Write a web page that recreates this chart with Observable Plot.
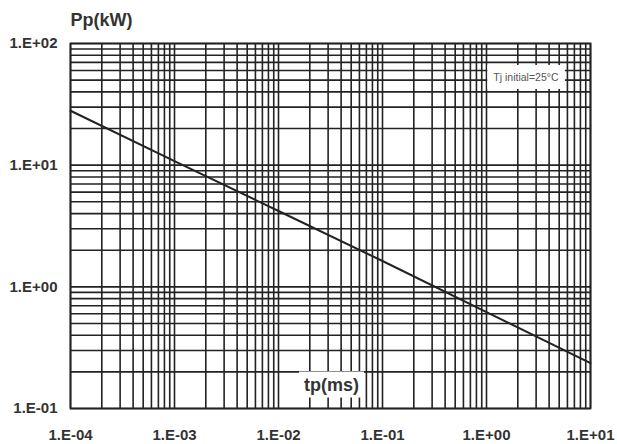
<!DOCTYPE html>
<html>
<head>
<meta charset="utf-8">
<script src="https://cdn.jsdelivr.net/npm/d3@7"></script>
<script src="https://cdn.jsdelivr.net/npm/@observablehq/plot@0.6"></script>
<style>
  html, body { margin: 0; padding: 0; background: white; }
  #chart svg { display: block; }
</style>
</head>
<body>
<div id="chart"></div>
<script>
// ---- data ----
const tpValues = [1e-4, 1e-3, 1e-2, 1e-1, 1, 10];          // tp (ms)
const ppValues = [28, 10.8, 4.2, 1.63, 0.62, 0.236];      // Pp (kW)
const xDecades = [1e-4, 1e-3, 1e-2, 1e-1, 1, 10];
const xTickLabels = ["1.E-04", "1.E-03", "1.E-02", "1.E-01", "1.E+00", "1.E+01"];
const yDecades = [0.1, 1, 10, 100];
const yTickLabels = ["1.E-01", "1.E+00", "1.E+01", "1.E+02"];
const multiples = [1, 2, 3, 4, 5, 6, 7, 8, 9];
const yTitle = "Pp(kW)";
const xTitle = "tp(ms)";
const note = "Tj initial=25°C";

const data = tpValues.map((t, i) => ({tp: t, pp: ppValues[i]}));
const xGrid = xDecades.slice(0, -1).flatMap(d => multiples.map(m => d * m)).concat([xDecades[xDecades.length - 1]]);
const yGrid = yDecades.slice(0, -1).flatMap(d => multiples.map(m => d * m)).concat([yDecades[yDecades.length - 1]]);
const xLab = new Map(xDecades.map((d, i) => [d, xTickLabels[i]]));
const yLab = new Map(yDecades.map((d, i) => [d, yTickLabels[i]]));

const ink = "#222";
const chart = Plot.plot({
  width: 617,
  height: 444,
  marginLeft: 70,
  marginRight: 27,
  marginTop: 43,
  marginBottom: 36,
  style: {fontFamily: "'Liberation Sans', Arial, sans-serif", background: "white", color: ink},
  x: {type: "log", domain: [1e-4, 10]},
  y: {type: "log", domain: [0.1, 100]},
  marks: [
    Plot.ruleX(xGrid, {stroke: ink, strokeWidth: 1.6}),
    Plot.ruleY(yGrid, {stroke: ink, strokeWidth: 1.6}),
    Plot.line(data, {x: "tp", y: "pp", stroke: ink, strokeWidth: 2}),
    Plot.frame({stroke: ink, strokeWidth: 1.8}),
    Plot.text([note], {frameAnchor: "top-right", dx: -32, dy: 30, textAnchor: "end", fontSize: 10.5, fill: "#555"}),
    Plot.text([xTitle], {frameAnchor: "bottom", dx: 1, dy: -18, fontSize: 18, fontWeight: "bold", fill: "#333"}),
    Plot.text([yTitle], {frameAnchor: "top-left", dx: 0, dy: -30, textAnchor: "start", fontSize: 18, fontWeight: "bold", fill: "#333"}),
    Plot.axisX(xDecades, {tickFormat: d => xLab.get(d), tickSize: 0, tickPadding: 21, fontSize: 15, fontWeight: "bold", fill: "#333", label: null}),
    Plot.axisY(yDecades, {tickFormat: d => yLab.get(d), tickSize: 0, tickPadding: 13, fontSize: 15, fontWeight: "bold", fill: "#333", label: null})
  ]
});
document.getElementById("chart").appendChild(chart);

// white boxes behind the in-plot labels
const boxed = new Map([[note, [6, 6]], [xTitle, [5, 3]]]);
chart.querySelectorAll("text").forEach(t => {
  const key = t.textContent;
  if (!boxed.has(key)) return;
  const [px, py] = boxed.get(key);
  const bb = t.getBBox();
  const r = document.createElementNS("http://www.w3.org/2000/svg", "rect");
  r.setAttribute("x", bb.x - px);
  r.setAttribute("y", bb.y - py);
  r.setAttribute("width", bb.width + 2 * px);
  r.setAttribute("height", bb.height + 2 * py);
  r.setAttribute("fill", "white");
  if (t.getAttribute("transform")) r.setAttribute("transform", t.getAttribute("transform"));
  t.parentNode.insertBefore(r, t);
});
</script>
</body>
</html>
